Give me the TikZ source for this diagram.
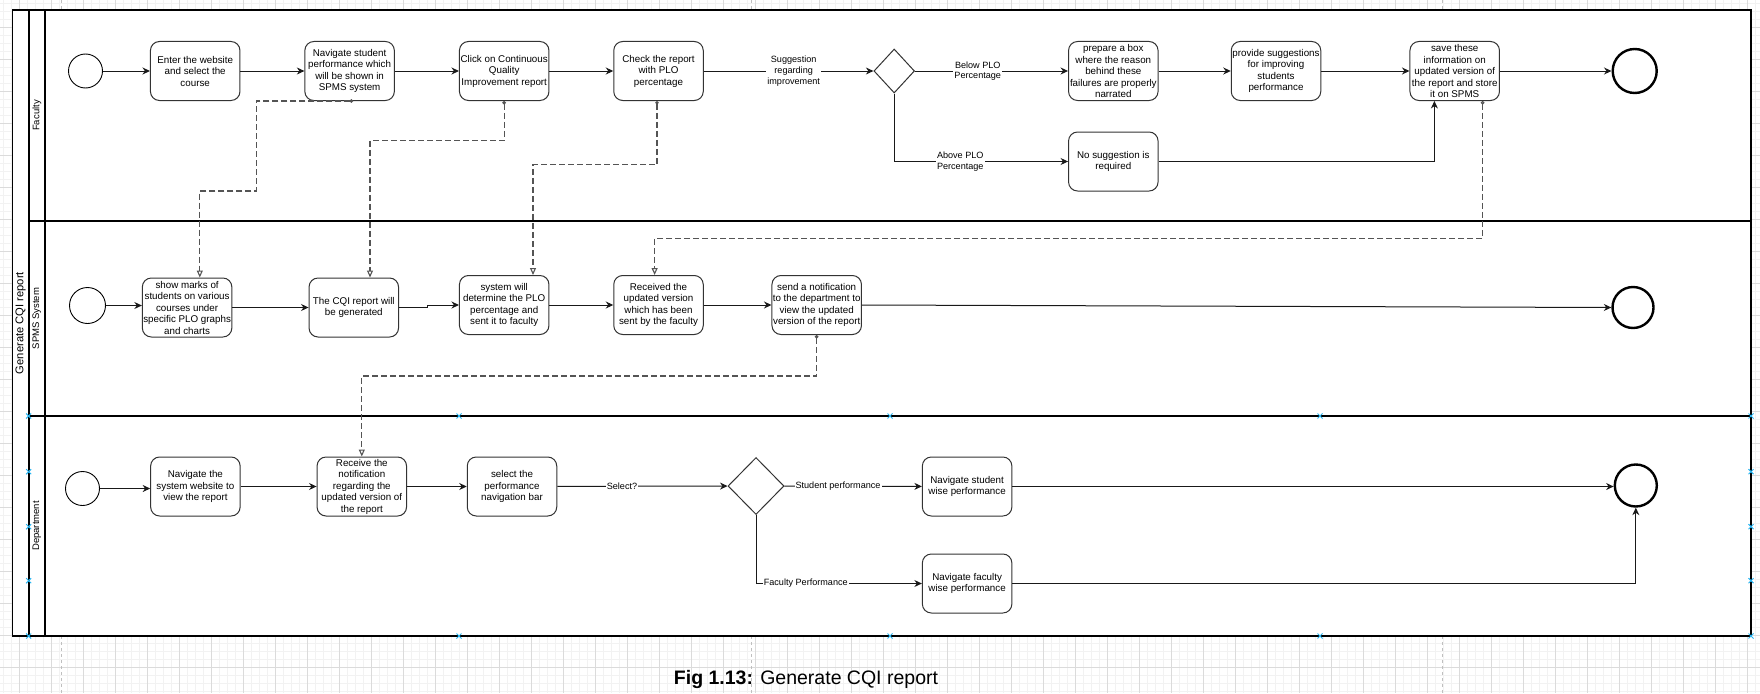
\documentclass[tikz,border=0pt]{standalone}
\usepackage{fontspec}
\setmainfont{Liberation Sans}
\usetikzlibrary{arrows.meta,shapes.geometric,calc}
\definecolor{gridmaj}{gray}{0.86}
\definecolor{gridmin}{gray}{0.95}
\definecolor{msgc}{gray}{0.33}
\definecolor{hdl}{RGB}{41,182,242}
\begin{document}
\begin{tikzpicture}[x=1pt,y=-1pt,
  task/.style={draw=black!80, line width=1pt, rounded corners=9pt, minimum width=89.5pt, minimum height=59pt, inner sep=0pt, align=center, font=\fontsize{9.8pt}{11.5pt}\selectfont},
  startev/.style={circle, draw=black, line width=0.9pt, inner sep=0pt, minimum size=34pt},
  endev/.style={circle, draw=black, line width=2.4pt, inner sep=0pt, minimum size=42pt},
  gate/.style={diamond, draw=black!80, line width=1pt, inner sep=0pt},
  flow/.style={draw=black!90, line width=1pt, -{Stealth[length=7.5pt,width=7pt]}},
  msg/.style={draw=msgc, line width=1.1pt, dash pattern=on 6pt off 3pt, {Circle[open,length=3.5pt,width=3.5pt]}-{Triangle[open,length=7pt,width=6pt]}},
  lbl/.style={fill=white, inner sep=1pt, align=center, font=\fontsize{9.1pt}{10.7pt}\selectfont},
  lanelbl/.style={rotate=90, font=\fontsize{9.5pt}{11pt}\selectfont},
  poolbar/.style={line width=1.8pt, draw=black}
]
\useasboundingbox (0,0) rectangle (1760,693);
% background grid
\foreach \i in {0,...,219} {\draw[gridmin,line width=0.6pt] ({3.3+8*\i},0) -- ++(0,693);}
\foreach \j in {0,...,86} {\draw[gridmin,line width=0.6pt] (0,{3.3+8*\j}) -- ++(1760,0);}
\foreach \i in {0,...,54} {\draw[gridmaj,line width=0.6pt] ({19.3+32*\i},0) -- ++(0,693);}
\foreach \j in {0,...,21} {\draw[gridmaj,line width=0.6pt] (0,{27.3+32*\j}) -- ++(1760,0);}
\foreach \x in {61,751,1442.8} {\draw[gray!50,dashed,line width=0.7pt] (\x,0) -- (\x,693);}
% pool and lanes
\draw[poolbar, fill=white] (12.5,10) rectangle (1751,636);
\draw[poolbar] (28.7,10) -- (28.7,636);
\draw[poolbar] (44.8,10) -- (44.8,636);
\draw[poolbar] (28.7,221) -- (1751,221);
\draw[poolbar] (28.7,416) -- (1751,416);
\node[rotate=90, font=\fontsize{11.2pt}{13pt}\selectfont] (pool) at (20.7,323) {Generate CQI report};
\node[lanelbl] (lf) at (36.8,115.5) {Faculty};
\node[lanelbl] (ls) at (36.8,318.5) {SPMS System};
\node[lanelbl] (ld) at (36.8,526) {Department};

% Faculty lane
\node[startev] (s1) at (85.5,71) {};
\node[task] (b1) at (195.2,71) {Enter the website\\and select the\\course};
\node[task] (b2) at (349.6,71) {Navigate student\\performance which\\will be shown in\\SPMS system};
\node[task] (b3) at (504.2,71) {Click on Continuous\\Quality\\Improvement report};
\node[task] (b4) at (658.5,71) {Check the report\\with PLO\\percentage};
\node[gate, minimum width=40.6pt, minimum height=44pt] (d1) at (894.2,71) {};
\node[task] (b5) at (1113.3,71) {prepare a box\\where the reason\\behind these\\failures are properly\\narrated};
\node[task] (b8) at (1113.3,161.5) {No suggestion is\\required};
\node[task] (b6) at (1276,71) {provide suggestions\\for improving\\students\\performance};
\node[task] (b7) at (1454.7,71) {save these\\information on\\updated version of\\the report and store\\it on SPMS};
\node[endev, minimum size=44pt] (e1) at (1634.7,71) {};

\draw[flow] (s1) -- (b1);
\draw[flow] (b1) -- (b2);
\draw[flow] (b2) -- (b3);
\draw[flow] (b3) -- (b4);
\draw[flow] (b4) -- node[lbl, pos=0.53] {Suggestion\\regarding\\improvement} (d1);
\draw[flow] (d1) -- node[lbl, pos=0.41] {Below PLO\\Percentage} (b5);
\draw[flow] (d1.south) |- node[lbl, pos=0.69] {Above PLO\\Percentage} (b8.west);
\draw[flow] (b5) -- (b6);
\draw[flow] (b6) -- (b7);
\draw[flow] (b7) -- (e1);
\draw[flow] (b8.east) -| ([xshift=-20.3pt]b7.south);

% SPMS lane
\node[startev, minimum size=36pt] (s2) at (87.5,305.5) {};
\node[task] (c1) at (187.1,307.5) {show marks of\\students on various\\courses under\\specific PLO graphs\\and charts};
\node[task] (c2) at (353.8,307.5) {The CQI report will\\be generated};
\node[task] (c3) at (504.2,305) {system will\\determine the PLO\\percentage and\\sent it to faculty};
\node[task] (c4) at (658.5,305) {Received the\\updated version\\which has been\\sent by the faculty};
\node[task] (c5) at (816.7,305) {send a notification\\to the department to\\view the updated\\version of the report};
\node[endev, minimum size=41pt] (e2) at (1633,307.5) {};

\draw[flow] (s2.east) -- (s2.east -| c1.west);
\draw[flow] (c1.east) -- (c1.east -| c2.west);
\draw[flow] (c2.east) -- ++(28,0) |- (c3.west);
\draw[flow] (c3) -- (c4);
\draw[flow] (c4) -- (c5);
\draw[flow] (c5.east) -- (e2.west);

% Department lane
\node[startev] (s3) at (82.5,488.5) {};
\node[task] (a1) at (195.4,486.5) {Navigate the\\system website to\\view the report};
\node[task] (a2) at (361.8,486.5) {Receive the\\notification\\regarding the\\updated version of\\the report};
\node[task] (a3) at (512,486.5) {select the\\performance\\navigation bar};
\node[gate, minimum width=56pt, minimum height=57pt] (d2) at (756,486) {};
\node[task] (a4) at (967.1,486.5) {Navigate student\\wise performance};
\node[task] (a5) at (967.1,583.5) {Navigate faculty\\wise performance};
\node[endev] (e3) at (1635.8,485.5) {};

\draw[flow] (s3.east) -- (s3.east -| a1.west);
\draw[flow] (a1) -- (a2);
\draw[flow] (a2) -- (a3);
\draw[flow] (a3) -- node[lbl, pos=0.38] {Select?} (d2);
\draw[flow] (d2) -- node[lbl, pos=0.39] {Student performance} (a4);
\draw[flow] (d2.south) |- node[lbl, pos=0.65] {Faculty Performance} (a5.west);
\draw[flow] (a4.east) -- (a4.east -| e3.west);
\draw[flow] (a5.east) -| (e3.south);

% message flows
\draw[msg] ([xshift=3.6pt]b2.south) -- ++(-96.8,0) -- ++(0,90) -| ([xshift=12.7pt]c1.north);
\draw[msg] (b3.south) -- ++(0,39.5) -| ([xshift=16.2pt]c2.north);
\draw[msg] ([xshift=-1.5pt]b4.south) -- ++(0,63.5) -| ([xshift=28.8pt]c3.north);
\draw[msg] ([xshift=27.9pt]b7.south) -- ++(0,137.5) -| ([xshift=-3.9pt]c4.north);
\draw[msg] (c5.south) -- ++(0,41) -| (a2.north);

% selection handles
\foreach \x/\y in {28.7/416,459/416,890/416,1320/416,1751/416,28.7/636,459/636,890/636,1320/636,1751/636,28.7/471.7,28.7/526.7,28.7/580.7,1751/471.7,1751/526.7,1751/580.7}
  {\draw[hdl,line width=1pt] ({\x-2.5},{\y-2.5}) -- ({\x+2.5},{\y+2.5}) ({\x-2.5},{\y+2.5}) -- ({\x+2.5},{\y-2.5});}

% caption
\node[anchor=base, font=\fontsize{19.5pt}{23pt}\selectfont, inner sep=0pt] (cap) at (806,684) {\textbf{Fig 1.13:} Generate CQI report};
\end{tikzpicture}
\end{document}
